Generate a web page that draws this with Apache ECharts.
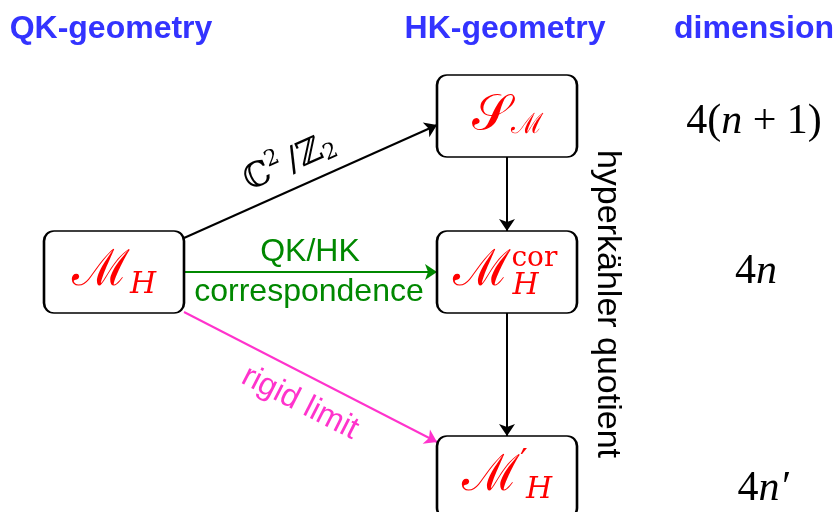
<!DOCTYPE html>
<html>
<head>
<meta charset="utf-8">
<script src="https://cdn.jsdelivr.net/npm/echarts@6/dist/echarts.min.js"></script>
<style>
  html, body { margin: 0; padding: 0; background: #fff; }
  #chart { width: 837px; height: 512px; }
</style>
</head>
<body>
<div id="chart"></div>
<script>
// column headers
const headers = ['QK-geometry', 'HK-geometry', 'dimension'];
const headerX = [111, 505, 754];
const headerY = [29, 29, 29];

// boxes (centre, in the hidden 837x512 axes)
const nodeLabels = [
  '{m|ℳ}{sub|H}',
  '{m|𝒮}{subm|ℳ}',
  '{m|ℳ}{sup|cor}{subr|H}',
  '{m|ℳ}{prime|′}{sub|H}'
];
const nodeX = [114, 507, 507, 507];
const nodeY = [272, 116, 272, 477];

// arrows between boxes
const edgeFrom = [0, 0, 0, 1, 2];
const edgeTo = [1, 2, 3, 2, 3];
const edgeStartDy = [-34, 0, 40, 0, 0];
const edgeEndDy = [9, 0, -35, 0, 0];
const edgeKind = ['map', 'corr', 'rigid', 'map', 'map'];

// arrow labels
const edgeTexts = ['{bb|ℂ}{sup|2}{sl|/}{bb|ℤ}{sub|2}', 'QK/HK', 'correspondence', 'rigid limit'];
const edgeTextX = [290, 310, 309, 300];
const edgeTextY = [163, 252, 292, 403];
const edgeTextRotate = [24, 0, 0, -27];
const edgeTextKind = ['map', 'corr', 'corr', 'rigid'];

// dimension column
const dims = ['{r|4(}{i|n}{r| + 1)}', '{r|4}{i|n}', '{r|4}{i|n′}'];
const dimX = [754, 756, 763];
const dimY = [122, 272, 489];

const sideLabel = 'hyperkähler quotient';

const BOX_W = 140, BOX_H = 82;
const colors = { map: '#000000', corr: '#008800', rigid: '#ff33cc' };
const mathRed = '#ff0000';
const serif = 'DejaVu Serif';

const chart = echarts.init(document.getElementById('chart'));

const boxPath = 'path://M10,0H130A10,10 0 0 1 140,10V72A10,10 0 0 1 130,82H10A10,10 0 0 1 0,72V10A10,10 0 0 1 10,0Z';

const mathRich = {
  m: { fontFamily: serif, fontSize: 50, color: mathRed, align: 'left' },
  sub: { fontFamily: serif, fontStyle: 'italic', fontSize: 30, color: mathRed, align: 'left', padding: [26, 0, 0, 0] },
  subr: { fontFamily: serif, fontStyle: 'italic', fontSize: 30, color: mathRed, align: 'left', padding: [28, 22, 0, 0] },
  subm: { fontFamily: serif, fontSize: 28, color: mathRed, align: 'left', padding: [20, 0, 0, 0] },
  sup: { fontFamily: serif, fontSize: 28, color: mathRed, align: 'left', width: 1, padding: [0, 0, 26, 0] },
  prime: { fontFamily: serif, fontSize: 34, color: mathRed, align: 'left', width: 6, padding: [0, 0, 26, 0] }
};

const nodeData = nodeX.map((x, i) => ({
  value: [x, nodeY[i]],
  label: { formatter: nodeLabels[i] }
}));

const edgeData = edgeFrom.map((f, i) => {
  const t = edgeTo[i];
  let start, end;
  if (nodeX[f] === nodeX[t]) {
    start = [nodeX[f], nodeY[f] + BOX_H / 2];
    end = [nodeX[t], nodeY[t] - BOX_H / 2];
  } else {
    start = [nodeX[f] + BOX_W / 2, nodeY[f] + edgeStartDy[i]];
    end = [nodeX[t] - BOX_W / 2, nodeY[t] + edgeEndDy[i]];
  }
  return { coords: [start, end], lineStyle: { color: colors[edgeKind[i]] } };
});

const textItem = (x, y, formatter, label) => ({
  value: [x, y],
  label: Object.assign({ show: true, position: 'inside', formatter: formatter }, label)
});

const annotations = [];
headers.forEach((h, i) => annotations.push(textItem(headerX[i], headerY[i], h, {
  fontFamily: 'Liberation Sans', fontWeight: 'bold', fontSize: 32, color: '#3333ff'
})));
edgeTexts.forEach((t, i) => {
  const c = colors[edgeTextKind[i]];
  annotations.push(textItem(edgeTextX[i], edgeTextY[i], t, {
    rotate: edgeTextRotate[i],
    fontFamily: 'Liberation Sans', fontSize: 32, color: c,
    rich: {
      bb: { fontFamily: serif, fontSize: 34, color: '#000' },
      sup: { fontFamily: serif, fontSize: 22, color: '#000', padding: [0, 6, 22, 0] },
      sl: { fontFamily: serif, fontSize: 34, color: '#000' },
      sub: { fontFamily: serif, fontSize: 22, color: '#000', padding: [14, 0, 0, 0] }
    }
  }));
});
dims.forEach((d, i) => annotations.push(textItem(dimX[i], dimY[i], d, {
  rich: {
    r: { fontFamily: 'Liberation Serif', fontSize: 42, color: '#000' },
    i: { fontFamily: 'Liberation Serif', fontStyle: 'italic', fontSize: 42, color: '#000' }
  }
})));
annotations.push(textItem(607, 304, sideLabel, {
  rotate: -90, fontFamily: 'Liberation Sans', fontSize: 34, color: '#000'
}));

chart.setOption({
  animation: false,
  grid: { left: 0, right: 0, top: 0, bottom: 0 },
  xAxis: { type: 'value', min: 0, max: 837, show: false },
  yAxis: { type: 'value', min: 0, max: 512, inverse: true, show: false },
  series: [
    {
      type: 'lines',
      coordinateSystem: 'cartesian2d',
      silent: true,
      symbol: ['none', 'arrow'],
      symbolSize: 12,
      lineStyle: { width: 2, opacity: 1 },
      data: edgeData
    },
    {
      type: 'scatter',
      silent: true,
      symbol: boxPath,
      symbolSize: [BOX_W, BOX_H],
      itemStyle: { color: '#fff', borderColor: '#000', borderWidth: 2, opacity: 1 },
      label: { show: true, position: 'inside', rich: mathRich },
      data: nodeData,
      z: 3
    },
    {
      type: 'scatter',
      silent: true,
      symbolSize: 1,
      itemStyle: { color: 'rgba(0,0,0,0)', opacity: 1 },
      data: annotations,
      z: 4
    }
  ]
});
</script>
</body>
</html>
